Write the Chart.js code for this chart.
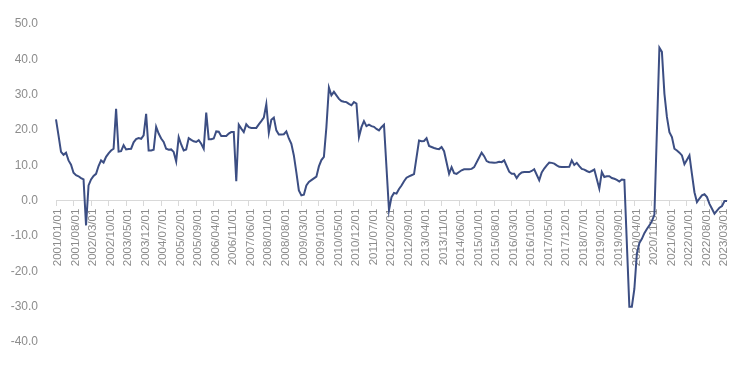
<!DOCTYPE html>
<html>
<head>
<meta charset="utf-8">
<script src="https://cdn.jsdelivr.net/npm/chart.js@4/dist/chart.umd.min.js"></script>
<style>
html,body{margin:0;padding:0;background:#fff;}
#wrap{width:752px;height:365px;position:relative;}
</style>
</head>
<body>
<div id="wrap"><canvas id="c" width="752" height="365"></canvas></div>
<script>
// Monthly categories 2001/01 .. 2023/05
const startYear = 2001, endYear = 2023, endMonth = 5;
const categories = [];
for (let y = startYear; y <= endYear; y++) {
  for (let m = 1; m <= 12; m++) {
    if (y === endYear && m > endMonth) break;
    categories.push(y + '/' + String(m).padStart(2, '0') + '/01');
  }
}

// Tick labels shown on the x axis (every 7th month)
const tickLabels = [
  '2001/01/01','2001/08/01','2002/03/01','2002/10/01','2003/05/01','2003/12/01',
  '2004/07/01','2005/02/01','2005/09/01','2006/04/01','2006/11/01','2007/06/01',
  '2008/01/01','2008/08/01','2009/03/01','2009/10/01','2010/05/01','2010/12/01',
  '2011/07/01','2012/02/01','2012/09/01','2013/04/01','2013/11/01','2014/06/01',
  '2015/01/01','2015/08/01','2016/03/01','2016/10/01','2017/05/01','2017/12/01',
  '2018/07/01','2019/02/01','2019/09/01','2020/04/01','2020/11/01','2021/06/01',
  '2022/01/01','2022/08/01','2023/03/01'
];

// Series values (%), one per month
const values2001_2005 = [
  23.0, 18.5, 13.8, 13.0, 13.6, 11.4, 10.2, 7.9, 7.2, 6.9, 6.4, 6.0,
  -7.0, 4.3, 6.0, 7.0, 7.6, 9.8, 11.4, 10.8, 12.4, 13.4, 14.2, 14.7,
  26.0, 13.9, 14.0, 15.7, 14.5, 14.6, 14.7, 16.5, 17.4, 17.7, 17.5, 18.5,
  24.6, 14.2, 14.2, 14.4, 20.9, 19.0, 17.6, 16.6, 14.7, 14.4, 14.5, 13.8,
  11.1, 18.0, 15.9, 14.2, 14.5, 17.7, 17.2, 16.8, 16.6, 17.1, 16.1, 14.7
];
const values2006_2011 = [
  24.9, 17.4, 17.4, 17.6, 19.6, 19.5, 18.3, 18.3, 18.3, 19.0, 19.4, 19.4,
  5.5, 21.5, 20.4, 19.4, 21.6, 20.8, 20.6, 20.6, 20.6, 21.6, 22.5, 23.5,
  27.3, 19.2, 22.9, 23.5, 19.9, 18.7, 18.7, 18.8, 19.6, 17.6, 16.1, 12.8,
  8.0, 2.9, 1.5, 1.7, 4.3, 5.3, 5.8, 6.3, 6.8, 9.7, 11.5, 12.4,
  20.8, 32.0, 29.8, 30.8, 29.8, 28.8, 28.2, 28.0, 27.9, 27.4, 27.0, 27.9,
  27.5, 18.0, 20.8, 22.5, 21.1, 21.5, 21.1, 20.9, 20.3, 19.9, 20.8, 21.5
];
const values2012_2017 = [
  null, -2.7, 1.0, 2.2, 2.0, 3.3, 4.3, 5.5, 6.5, 6.9, 7.2, 7.5,
  null, 17.0, 16.8, 16.9, 17.7, 15.5, 15.2, 14.9, 14.7, 14.6, 15.2, 14.0,
  null, 7.6, 9.5, 7.8, 7.6, 8.1, 8.6, 8.9, 8.9, 8.9, 9.0, 9.5,
  null, 12.2, 13.6, 12.6, 11.2, 10.9, 10.8, 10.7, 10.8, 11.0, 10.9, 11.4,
  null, 8.2, 7.6, 7.6, 6.4, 7.4, 8.0, 8.1, 8.1, 8.1, 8.4, 8.9,
  null, 5.8, 8.0, 9.1, 10.0, 10.8, 10.7, 10.5, 10.0, 9.6, 9.5, 9.5
];
const values2018_2023 = [
  null, 9.6, 11.4, 10.1, 10.7, 9.8, 9.0, 8.8, 8.4, 8.1, 8.4, 8.8,
  null, 3.4, 8.1, 6.7, 6.9, 6.9, 6.4, 6.2, 5.9, 5.4, 6.0, 5.9,
  null, -30.0, -30.0, -25.0, -15.0, -12.0, -10.8, -9.2, -8.0, -7.0, -5.8, -4.0,
  null, 43.3, 42.1, 30.3, 23.7, 19.4, 18.0, 14.7, 14.2, 13.6, 12.8, 10.3,
  null, 12.8, 7.5, 2.4, -0.4, 0.6, 1.5, 1.8, 1.0, -0.9, -2.3, -3.7,
  null, -2.0, -1.5, -0.1, -0.1
];
const seriesValues = [].concat(values2001_2005, values2006_2011, values2012_2017, values2018_2023);

const yMin = -40, yMax = 50, yStep = 10;
const labelColor = '#8c8c8c';

new Chart(document.getElementById('c'), {
  type: 'line',
  data: {
    labels: categories,
    datasets: [{
      data: seriesValues,
      borderColor: '#3c4e83',
      borderWidth: 2,
      pointRadius: 0,
      pointHoverRadius: 0,
      tension: 0,
      spanGaps: true,
      fill: false
    }]
  },
  options: {
    responsive: false,
    animation: false,
    devicePixelRatio: 1,
    layout: { padding: { left: 0, right: 25, top: 24, bottom: 23 } },
    plugins: { legend: { display: false }, tooltip: { enabled: false } },
    scales: {
      x: {
        type: 'category',
        position: { y: 0 },
        offset: false,
        border: { display: true, color: '#d9d9d9', width: 1 },
        grid: { display: true, drawOnChartArea: false, drawTicks: true, tickLength: 5, color: '#d9d9d9' },
        ticks: {
          autoSkip: false,
          minRotation: 90,
          maxRotation: 90,
          padding: 3,
          labelOffset: 2,
          color: labelColor,
          font: { family: '"Liberation Sans", Arial, sans-serif', size: 11.5 },
          callback: function (val, idx) {
            const lab = categories[idx];
            return tickLabels.indexOf(lab) >= 0 ? lab : null;
          }
        }
      },
      y: {
        min: yMin,
        max: yMax,
        border: { display: false },
        grid: { display: false },
        afterFit: function (scale) { scale.width = 56; },
        ticks: {
          stepSize: yStep,
          padding: 10,
          color: labelColor,
          font: { family: '"Liberation Sans", Arial, sans-serif', size: 12 },
          callback: function (v) { return Number(v).toFixed(1); }
        }
      }
    }
  }
});
</script>
</body>
</html>
